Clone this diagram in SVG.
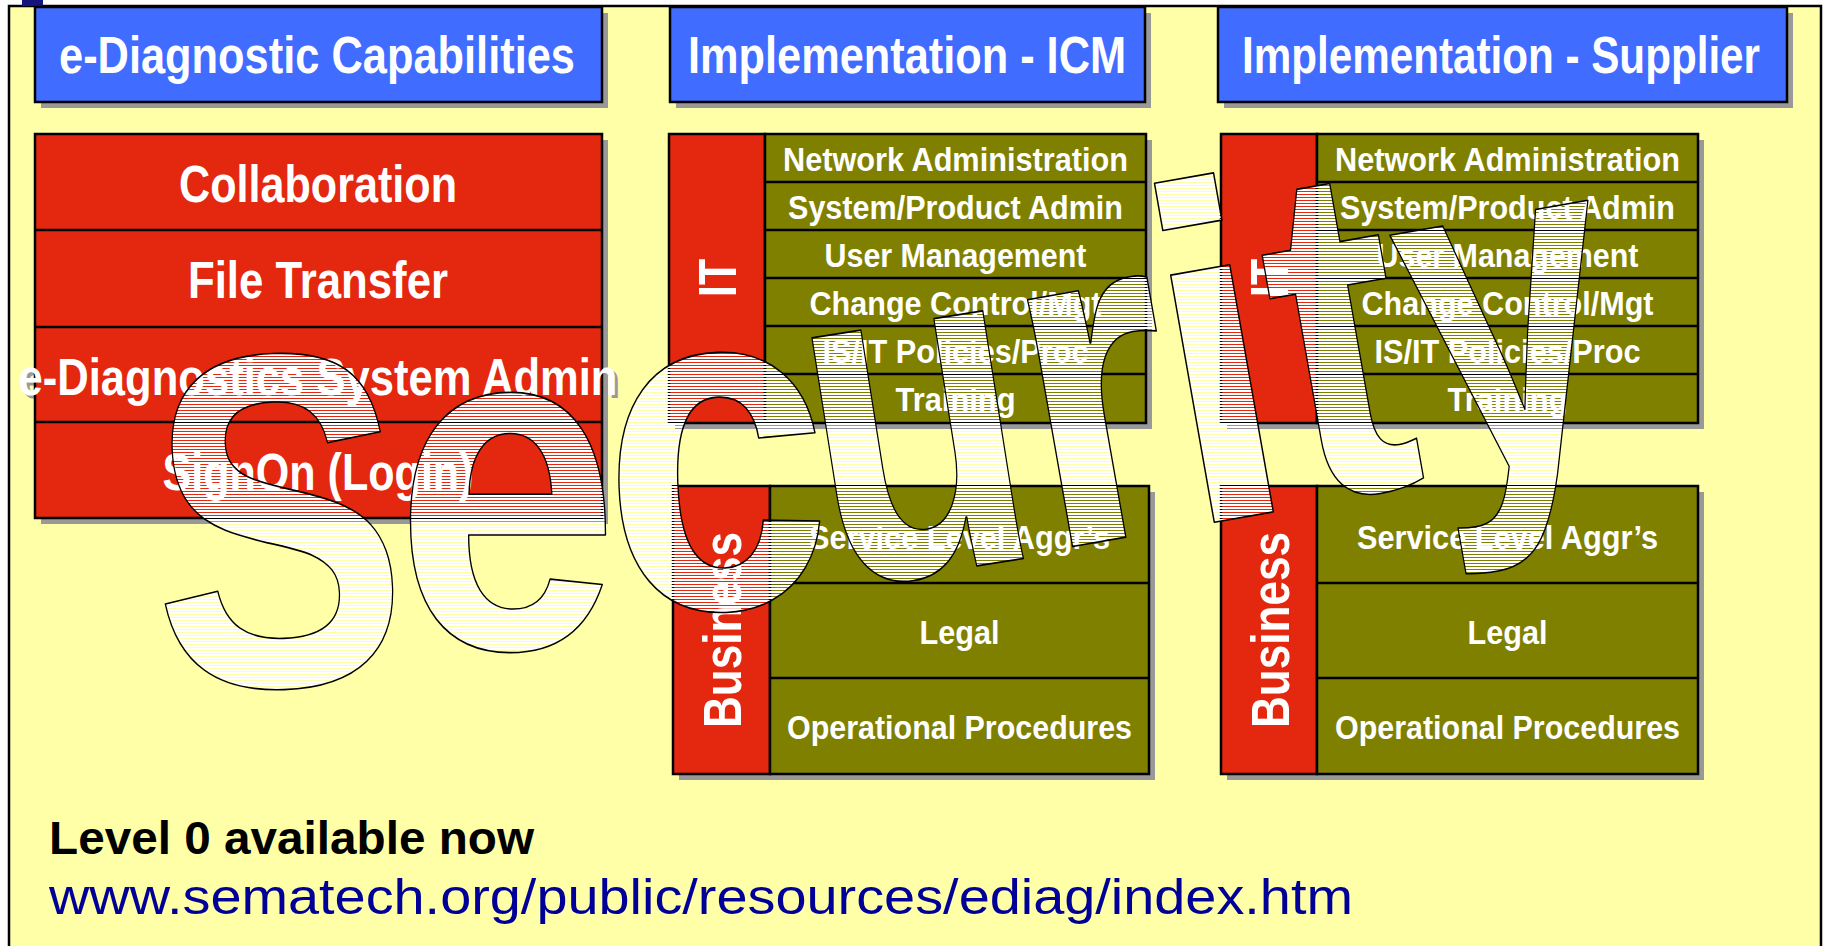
<svg xmlns="http://www.w3.org/2000/svg" xmlns:xlink="http://www.w3.org/1999/xlink" width="1827" height="946" viewBox="0 0 1827 946">
<style>
.sh{fill:#999999}
.hdr{fill:#406CFF;stroke:#000;stroke-width:2.5}
.red{fill:#E3280F;stroke:#000;stroke-width:2.5}
.olv{fill:#808000;stroke:#000;stroke-width:2.5}
.ln{stroke:#000;stroke-width:2.5}
.t{font-family:"Liberation Sans",Arial,sans-serif;font-weight:bold;fill:#fff;text-anchor:middle}
.big{font-size:52px}
.row{font-size:33px}
.vert{font-size:54px}
.wa{font-family:"Liberation Sans",Arial,sans-serif;font-weight:bold;font-size:475px;text-anchor:middle}
</style>
<defs>
<pattern id="stripes" width="8" height="3" patternUnits="userSpaceOnUse"><rect width="8" height="2" fill="#fff"/></pattern>
<text id="L1" class="wa" transform="translate(284,685) rotate(-2) scale(0.8,1)">S</text>
<text id="L2" class="wa" transform="translate(507,648) scale(0.85,1)">e</text>
<text id="L3" class="wa" transform="translate(721,608) rotate(-2) scale(0.86,1)">c</text>
<text id="L4" class="wa" transform="translate(938,572) rotate(-9) scale(0.76,1)">u</text>
<text id="L5" class="wa" transform="translate(1121,538) rotate(-10) scale(0.83,1)">r</text>
<text id="L6" class="wa" transform="translate(1244,517) rotate(-10) scale(0.92,1)">i</text>
<text id="L7" class="wa" transform="translate(1365,492) rotate(-10) scale(0.82,1)">t</text>
<text id="L8" class="wa" transform="translate(1532,465) rotate(-10) scale(0.78,1)">y</text>
<clipPath id="wordClip" clipPathUnits="userSpaceOnUse">
<use xlink:href="#L1"/><use xlink:href="#L2"/><use xlink:href="#L3"/><use xlink:href="#L4"/>
<use xlink:href="#L5"/><use xlink:href="#L6"/><use xlink:href="#L7"/><use xlink:href="#L8"/>
</clipPath>
</defs>

<rect width="1827" height="946" fill="#fff"/>
<g id="slide-frame">
<rect x="9" y="6" width="1812" height="960" fill="#FFFFA8" stroke="#000" stroke-width="2.5"/>
<rect x="22" y="0" width="21" height="6" fill="#14147F"/>
</g>

<g id="header-capabilities">
<rect class="sh" x="41" y="13" width="567" height="95"/>
<rect class="hdr" x="35" y="7" width="567" height="95"/>
<text class="t big" x="317" y="73" textLength="516" lengthAdjust="spacingAndGlyphs">e-Diagnostic Capabilities</text>
</g>
<g id="header-icm">
<rect class="sh" x="676" y="13" width="475" height="95"/>
<rect class="hdr" x="670" y="7" width="475" height="95"/>
<text class="t big" x="907" y="73" textLength="438" lengthAdjust="spacingAndGlyphs">Implementation - ICM</text>
</g>
<g id="header-supplier">
<rect class="sh" x="1224" y="13" width="569" height="95"/>
<rect class="hdr" x="1218" y="7" width="569" height="95"/>
<text class="t big" x="1501" y="73" textLength="518" lengthAdjust="spacingAndGlyphs">Implementation - Supplier</text>
</g>

<g id="capabilities-stack">
<text class="big" x="321" y="398" fill="#999" font-family="Liberation Sans, Arial, sans-serif" font-weight="bold" text-anchor="middle" textLength="599" lengthAdjust="spacingAndGlyphs">e-Diagnostics System Admin</text>
<rect class="sh" x="41" y="140" width="567" height="384"/>
<rect class="red" x="35" y="134" width="567" height="384"/>
<line class="ln" x1="35" y1="230" x2="602" y2="230"/>
<line class="ln" x1="35" y1="327" x2="602" y2="327"/>
<line class="ln" x1="35" y1="422" x2="602" y2="422"/>
<text class="t big" x="318" y="202" textLength="278" lengthAdjust="spacingAndGlyphs">Collaboration</text>
<text class="t big" x="318" y="298" textLength="260" lengthAdjust="spacingAndGlyphs">File Transfer</text>
<text class="t big" x="318" y="395" textLength="599" lengthAdjust="spacingAndGlyphs">e-Diagnostics System Admin</text>
<text class="t big" x="318" y="490" textLength="311" lengthAdjust="spacingAndGlyphs">SignOn (Login)</text>
</g>

<g id="icm-it">
<rect class="sh" x="675" y="140" width="477" height="289"/>
<rect class="red" x="669" y="134" width="96" height="289"/>
<rect class="olv" x="765" y="134" width="381" height="289"/>
<line class="ln" x1="765" y1="182" x2="1146" y2="182"/>
<line class="ln" x1="765" y1="230" x2="1146" y2="230"/>
<line class="ln" x1="765" y1="278" x2="1146" y2="278"/>
<line class="ln" x1="765" y1="326" x2="1146" y2="326"/>
<line class="ln" x1="765" y1="374" x2="1146" y2="374"/>
<text class="t vert" transform="translate(736,278) rotate(-90)" textLength="38" lengthAdjust="spacingAndGlyphs">IT</text>
<text class="t row" x="955.5" y="171" textLength="345" lengthAdjust="spacingAndGlyphs">Network Administration</text>
<text class="t row" x="955.5" y="219" textLength="335" lengthAdjust="spacingAndGlyphs">System/Product Admin</text>
<text class="t row" x="955.5" y="267" textLength="262" lengthAdjust="spacingAndGlyphs">User Management</text>
<text class="t row" x="955.5" y="315" textLength="292" lengthAdjust="spacingAndGlyphs">Change Control/Mgt</text>
<text class="t row" x="955.5" y="363" textLength="266" lengthAdjust="spacingAndGlyphs">IS/IT Policies/Proc</text>
<text class="t row" x="955.5" y="411" textLength="120" lengthAdjust="spacingAndGlyphs">Training</text>
</g>

<g id="icm-business">
<rect class="sh" x="679" y="492" width="476" height="288"/>
<rect class="red" x="673" y="486" width="97" height="288"/>
<rect class="olv" x="770" y="486" width="379" height="288"/>
<line class="ln" x1="770" y1="583" x2="1149" y2="583"/>
<line class="ln" x1="770" y1="678" x2="1149" y2="678"/>
<text class="t vert" transform="translate(741,630) rotate(-90)" textLength="196" lengthAdjust="spacingAndGlyphs">Business</text>
<text class="t row" x="959.5" y="549" textLength="301" lengthAdjust="spacingAndGlyphs">Service Level Aggr’s</text>
<text class="t row" x="959.5" y="644" textLength="80" lengthAdjust="spacingAndGlyphs">Legal</text>
<text class="t row" x="959.5" y="739" textLength="345" lengthAdjust="spacingAndGlyphs">Operational Procedures</text>
</g>

<g id="supplier-it">
<rect class="sh" x="1227" y="140" width="477" height="289"/>
<rect class="red" x="1221" y="134" width="96" height="289"/>
<rect class="olv" x="1317" y="134" width="381" height="289"/>
<line class="ln" x1="1317" y1="182" x2="1698" y2="182"/>
<line class="ln" x1="1317" y1="230" x2="1698" y2="230"/>
<line class="ln" x1="1317" y1="278" x2="1698" y2="278"/>
<line class="ln" x1="1317" y1="326" x2="1698" y2="326"/>
<line class="ln" x1="1317" y1="374" x2="1698" y2="374"/>
<text class="t vert" transform="translate(1288,278) rotate(-90)" textLength="38" lengthAdjust="spacingAndGlyphs">IT</text>
<text class="t row" x="1507.5" y="171" textLength="345" lengthAdjust="spacingAndGlyphs">Network Administration</text>
<text class="t row" x="1507.5" y="219" textLength="335" lengthAdjust="spacingAndGlyphs">System/Product Admin</text>
<text class="t row" x="1507.5" y="267" textLength="262" lengthAdjust="spacingAndGlyphs">User Management</text>
<text class="t row" x="1507.5" y="315" textLength="292" lengthAdjust="spacingAndGlyphs">Change Control/Mgt</text>
<text class="t row" x="1507.5" y="363" textLength="266" lengthAdjust="spacingAndGlyphs">IS/IT Policies/Proc</text>
<text class="t row" x="1507.5" y="411" textLength="120" lengthAdjust="spacingAndGlyphs">Training</text>
</g>

<g id="supplier-business">
<rect class="sh" x="1227" y="492" width="477" height="288"/>
<rect class="red" x="1221" y="486" width="96" height="288"/>
<rect class="olv" x="1317" y="486" width="381" height="288"/>
<line class="ln" x1="1317" y1="583" x2="1698" y2="583"/>
<line class="ln" x1="1317" y1="678" x2="1698" y2="678"/>
<text class="t vert" transform="translate(1289,630) rotate(-90)" textLength="196" lengthAdjust="spacingAndGlyphs">Business</text>
<text class="t row" x="1507.5" y="549" textLength="301" lengthAdjust="spacingAndGlyphs">Service Level Aggr’s</text>
<text class="t row" x="1507.5" y="644" textLength="80" lengthAdjust="spacingAndGlyphs">Legal</text>
<text class="t row" x="1507.5" y="739" textLength="345" lengthAdjust="spacingAndGlyphs">Operational Procedures</text>
</g>

<g id="footer">
<text x="49" y="854" font-family="Liberation Sans, Arial, sans-serif" font-weight="bold" font-size="46" fill="#000" textLength="485" lengthAdjust="spacingAndGlyphs">Level 0 available now</text>
<text x="49" y="914" font-family="Liberation Sans, Arial, sans-serif" font-size="50" fill="#000099" textLength="1304" lengthAdjust="spacingAndGlyphs">www.sematech.org/public/resources/ediag/index.htm</text>
</g>

<g id="security-wordart">
<rect width="1827" height="946" fill="url(#stripes)" clip-path="url(#wordClip)"/>
<g fill="none" stroke="#000" stroke-width="1.6" stroke-linejoin="round">
<use xlink:href="#L1"/><use xlink:href="#L2"/><use xlink:href="#L3"/><use xlink:href="#L4"/>
<use xlink:href="#L5"/><use xlink:href="#L6"/><use xlink:href="#L7"/><use xlink:href="#L8"/>
</g>
</g>
</svg>
